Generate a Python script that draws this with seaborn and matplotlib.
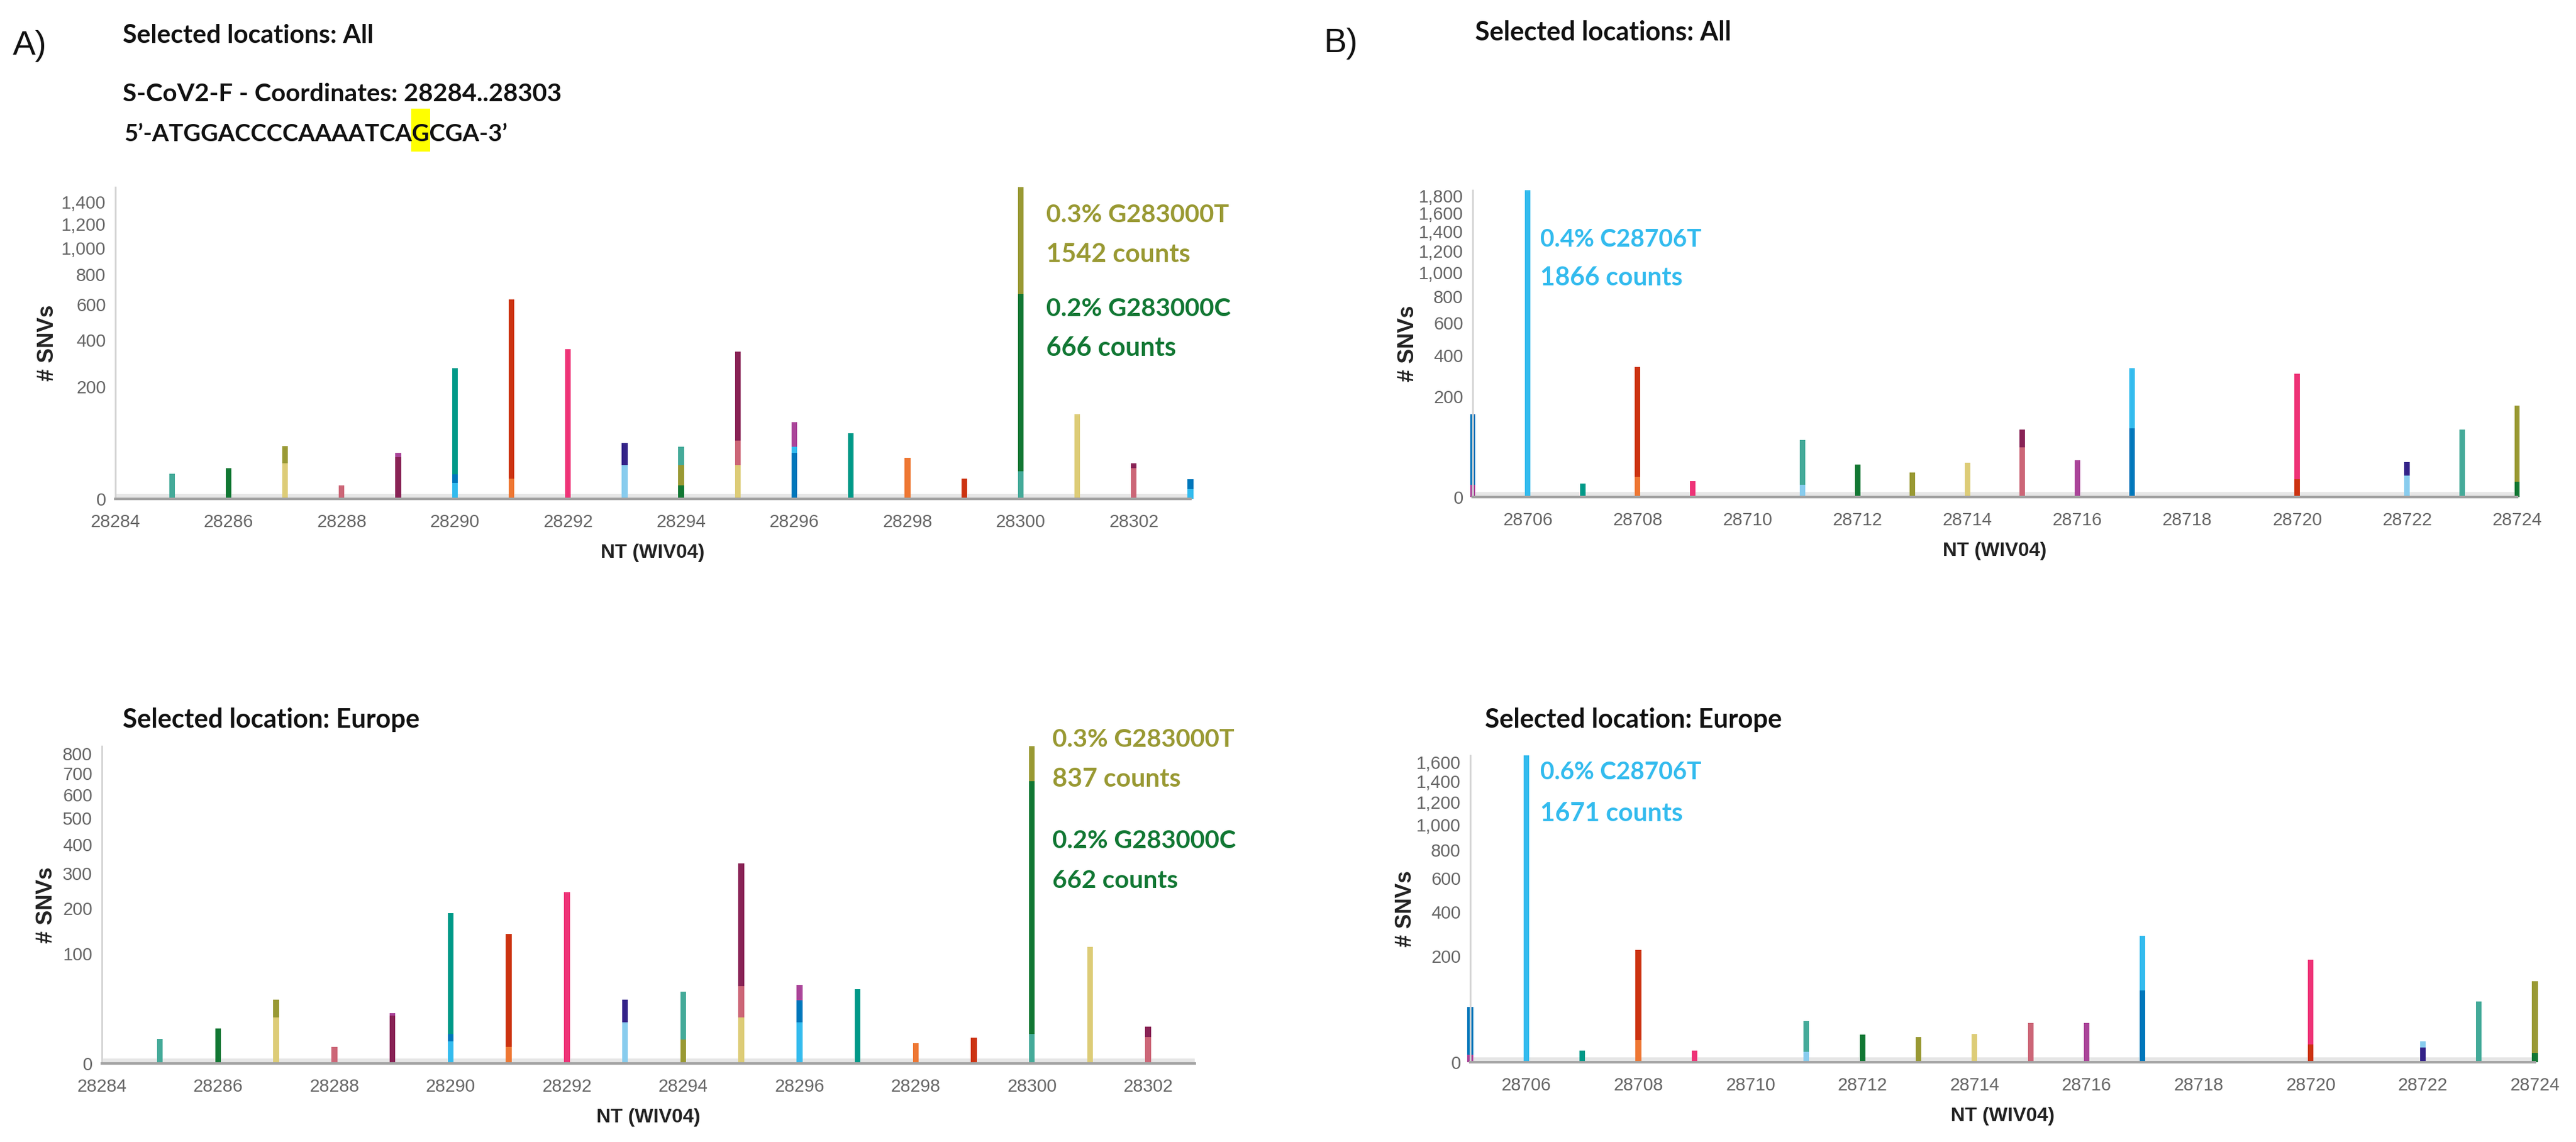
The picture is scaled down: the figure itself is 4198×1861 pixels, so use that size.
import numpy as np
import pandas as pd
import matplotlib
matplotlib.use("Agg")
import matplotlib.pyplot as plt
import seaborn as sns
from matplotlib import font_manager
from matplotlib.patches import Rectangle
from matplotlib.ticker import FixedLocator, FuncFormatter
from matplotlib.transforms import offset_copy

# Tamanho final da figura em pixels
W, H = 4198, 1861

# Cores das variantes (estilo Paul Tol)
palette = {
    "teal": "#44AA99", "teal_dk": "#009988", "green": "#117733", "sand": "#DDCC77",
    "olive": "#999933", "rose": "#CC6677", "wine": "#882255", "purple": "#AA4499",
    "cyan_lt": "#88CCEE", "indigo": "#332288", "blue": "#0077BB", "sky": "#33BBEE",
    "orange": "#EE7733", "red": "#CC3311", "magenta": "#EE3377",
}

# 1. Dados - painel A, todas as localizações
a_all_pos = [28285, 28286, 28287, 28287, 28288, 28289, 28289, 28290, 28290, 28290,
             28291, 28291, 28292, 28293, 28293, 28294, 28294, 28294, 28295, 28295, 28295,
             28296, 28296, 28296, 28297, 28298, 28299, 28300, 28300, 28300, 28301,
             28302, 28302, 28303, 28303]
a_all_var = ["teal", "green", "olive", "sand", "rose", "purple", "wine", "teal_dk", "blue", "sky",
             "red", "orange", "magenta", "indigo", "cyan_lt", "teal", "olive", "green", "wine", "rose", "sand",
             "purple", "sky", "blue", "teal_dk", "orange", "red", "olive", "green", "teal", "sand",
             "wine", "rose", "blue", "sky"]
a_all_cnt = [10, 15, 44, 20, 3, 34, 28, 270, 9.5, 4,
             633, 6.5, 357, 49, 18, 43, 18, 3, 343, 54, 18,
             94, 43, 34, 69, 27, 6.5, 1542, 666, 12, 113,
             20, 15, 6, 1.5]

# painel A, Europa
a_eur_pos = [28285, 28286, 28287, 28287, 28288, 28289, 28289, 28290, 28290, 28290,
             28291, 28291, 28292, 28293, 28293, 28294, 28294, 28295, 28295, 28295,
             28296, 28296, 28296, 28297, 28298, 28299, 28300, 28300, 28300, 28301,
             28302, 28302]
a_eur_var = ["teal", "green", "olive", "sand", "rose", "purple", "wine", "teal_dk", "blue", "sky",
             "red", "orange", "magenta", "indigo", "cyan_lt", "teal", "olive", "wine", "rose", "sand",
             "purple", "blue", "sky", "teal_dk", "orange", "red", "olive", "green", "teal", "sand",
             "wine", "rose"]
a_eur_cnt = [5, 10, 34, 17.5, 2.2, 21, 19, 188, 7.3, 4,
             140, 2.2, 243, 34, 14, 43, 4.7, 333, 50, 17.5,
             51, 33, 14, 46, 3.4, 5.5, 837, 662, 7.3, 113,
             11.4, 5.9]

# painel B, todas as localizações
b_all_pos = [28705, 28705, 28706, 28707, 28708, 28708, 28709, 28711, 28711, 28712,
             28713, 28714, 28715, 28715, 28716, 28717, 28717, 28720, 28720, 28722,
             28722, 28723, 28724, 28724]
b_all_var = ["blue", "purple", "sky", "teal_dk", "red", "orange", "magenta", "teal", "cyan_lt", "green",
             "olive", "sand", "wine", "rose", "purple", "sky", "blue", "magenta", "red", "indigo",
             "cyan_lt", "teal", "olive", "green"]
b_all_cnt = [136, 3, 1866, 3.6, 337, 8.3, 5, 65, 3, 21,
             12, 23, 90, 49, 27, 330, 94, 302, 6.3, 24.5,
             9.3, 90, 166, 4.6]

# painel B, Europa
b_eur_pos = [28705, 28705, 28706, 28707, 28708, 28708, 28709, 28711, 28711, 28712,
             28713, 28714, 28715, 28716, 28717, 28717, 28720, 28720, 28722, 28722,
             28723, 28724, 28724]
b_eur_var = ["blue", "purple", "sky", "teal_dk", "red", "orange", "magenta", "teal", "cyan_lt", "green",
             "olive", "sand", "rose", "purple", "sky", "blue", "magenta", "red", "cyan_lt", "indigo",
             "teal", "olive", "green"]
b_eur_cnt = [54, 1, 1671, 2.3, 225, 8.9, 2.3, 30, 1.9, 13.3,
             11.4, 14, 27, 27, 285, 91, 186, 5.7, 7.7, 3.8,
             66, 116, 1.5]

# ticks
a_xticks = list(range(28284, 28303, 2))
b_xticks = list(range(28706, 28725, 2))
a_all_yticks = [0, 200, 400, 600, 800, 1000, 1200, 1400]
a_eur_yticks = [0, 100, 200, 300, 400, 500, 600, 700, 800]
b_all_yticks = [0, 200, 400, 600, 800, 1000, 1200, 1400, 1600, 1800]
b_eur_yticks = [0, 200, 400, 600, 800, 1000, 1200, 1400, 1600]

# 2. Fontes
sns.set_style("white")
disponiveis = {f.name for f in font_manager.fontManager.ttflist}
NARROW = "Liberation Sans Narrow" if "Liberation Sans Narrow" in disponiveis else "Liberation Sans"
TITULO = "Lato" if "Lato" in disponiveis else NARROW
plt.rcParams["font.family"] = [NARROW, "DejaVu Sans"]
TICK_SIZE = 23.5 if NARROW.endswith("Narrow") else 21
XLAB_SIZE = 24.5 if NARROW.endswith("Narrow") else 23
ESCALA = 1.06  # texto da referência é mais alto que largo

fig = plt.figure(figsize=(W / 100, H / 100), dpi=100)
fig.patch.set_facecolor("white")
renderer = fig.canvas.get_renderer()


def fx(x):
    return x / W


def fy(y):
    return 1 - y / H


def sqrt_fwd(v):
    return np.sqrt(np.clip(v, 0, None))


def sqrt_inv(v):
    return np.square(v)


def desenhar_painel(box, pos, var, cnt, xlim, xticks, yticks, ymax, ylabel_x):
    left, top, right, bottom = box
    ax = fig.add_axes([fx(left), fy(bottom), (right - left) / W, (bottom - top) / H])
    df = pd.DataFrame({"nt": pos, "variante": var, "snvs": cnt})
    df["seg"] = df["nt"].astype(str) + "_" + df["variante"]
    # barras sobrepostas: maiores primeiro, menores por cima
    ordem = df.sort_values("snvs", ascending=False)["seg"].tolist()
    cores = {s: palette[v] for s, v in zip(df["seg"], df["variante"])}
    sns.barplot(data=df, x="nt", y="snvs", hue="seg", hue_order=ordem, palette=cores,
                native_scale=True, dodge=False, width=0.1, saturation=1,
                errorbar=None, legend=False, linewidth=0, ax=ax)
    for p in ax.patches:
        p.set_clip_on(False)

    ax.set_yscale("function", functions=(sqrt_fwd, sqrt_inv))
    ax.set_xlim(*xlim)
    ax.set_ylim(0, ymax)
    ax.xaxis.set_major_locator(FixedLocator(xticks))
    ax.xaxis.set_major_formatter(FuncFormatter(lambda v, _: f"{int(round(v))}"))
    ax.yaxis.set_major_locator(FixedLocator(yticks))
    ax.yaxis.set_major_formatter(FuncFormatter(lambda v, _: f"{int(round(v)):,}"))
    ax.yaxis.set_minor_locator(FixedLocator([]))

    for s in ["top", "right"]:
        ax.spines[s].set_visible(False)
    ax.spines["left"].set_color("#d4d4d4")
    ax.spines["left"].set_linewidth(2)
    ax.spines["bottom"].set_color("#a3a3a3")
    ax.spines["bottom"].set_linewidth(3)
    ax.spines["bottom"].set_zorder(3)
    # faixa clara logo acima da linha de base
    ax.plot([0, 1], [0, 0], transform=offset_copy(ax.transAxes, fig=fig, y=5, units="dots"),
            color="#e6e6e6", lw=4.3, solid_capstyle="butt", zorder=0.8, clip_on=False)

    ax.tick_params(axis="x", length=10, width=1.5, color="#bdbdbd", pad=7,
                   labelsize=TICK_SIZE, labelcolor="#666666")
    ax.tick_params(axis="y", length=7, width=1.5, color="#c8c8c8", pad=4,
                   labelsize=TICK_SIZE, labelcolor="#666666")

    ax.set_xlabel("NT (WIV04)", fontsize=XLAB_SIZE, fontweight="bold", color="#222222")
    ax.xaxis.set_label_coords(0.5, -88 / (bottom - top))
    ax.xaxis.label.set_va("center")
    ax.set_ylabel("# SNVs", family=["Liberation Sans", "DejaVu Sans"], fontsize=26,
                  fontweight="bold", color="#222222")
    ax.yaxis.set_label_coords((ylabel_x - left) / (right - left), 0.5)
    ax.yaxis.label.set_va("center")
    return ax


# 3. Painéis
desenhar_painel((188, 305, 1940, 813), a_all_pos, a_all_var, a_all_cnt,
                (28284, 28303), a_xticks, a_all_yticks, 1542, 77)
desenhar_painel((166, 1216, 1947, 1733), a_eur_pos, a_eur_var, a_eur_cnt,
                (28284, 28302.8), a_xticks, a_eur_yticks, 837, 76)
desenhar_painel((2400, 310, 4102, 810), b_all_pos, b_all_var, b_all_cnt,
                (28705, 28724), b_xticks, b_all_yticks, 1866, 2295)
desenhar_painel((2396, 1231, 4131, 1731), b_eur_pos, b_eur_var, b_eur_cnt,
                (28705, 28724), b_xticks, b_eur_yticks, 1671, 2290)


# 4. Textos (tamanho ajustado pela largura medida na referência)
def texto(x, y, s, largura_alvo, **kw):
    t = fig.text(fx(x), fy(y), s, **kw)
    w = t.get_window_extent(renderer).width
    t.set_fontsize(t.get_fontsize() * largura_alvo * ESCALA / w)
    return t


bold = dict(family=[TITULO, "DejaVu Sans"], fontsize=30, fontweight="bold",
            color="#111111", va="baseline", ha="left")
fig.text(fx(21), fy(75), "A)", fontsize=40, color="#111111", va="center", ha="left")
fig.text(fx(2157), fy(71), "B)", fontsize=40, color="#111111", va="center", ha="left")
texto(200, 70, "Selected locations: All", 386, **bold)
texto(2404, 66, "Selected locations: All", 394, **bold)
texto(200, 1186, "Selected location: Europe", 456, **bold)
texto(2420, 1186, "Selected location: Europe", 456, **bold)
texto(200, 165, "S-CoV2-F - Coordinates: 28284..28303", 673, **bold)

# sequência com o G destacado em amarelo
seq_prefixo = "5\u2019-ATGGACCCCAAAATCA"
seq_alvo = "G"
seq_sufixo = "CGA-3\u2019"
t_seq = texto(202, 230, seq_prefixo + seq_alvo + seq_sufixo, 588, zorder=3, **bold)
seq_kw = dict(bold, fontsize=t_seq.get_fontsize())


def largura(s):
    t = fig.text(0, 0.5, s, **seq_kw)
    w = t.get_window_extent(renderer).width
    t.remove()
    return w


x0 = t_seq.get_window_extent(renderer).x0
w1 = largura(seq_prefixo)
w2 = largura(seq_prefixo + seq_alvo)
fig.patches.append(Rectangle((fx(x0 + w1 - 1), fy(247)), (w2 - w1 + 2) / W, 70 / H,
                             transform=fig.transFigure, facecolor="#FFFF00",
                             edgecolor="none", zorder=1))

# anotações dos picos
ann = dict(family=[TITULO, "DejaVu Sans"], fontsize=30, fontweight="bold",
           va="baseline", ha="left")
c_t, c_c, c_sky = palette["olive"], palette["green"], palette["sky"]
texto(1705, 362, "0.3% G283000T", 281, color=c_t, **ann)
texto(1705, 427, "1542 counts", 221, color=c_t, **ann)
texto(1705, 515, "0.2% G283000C", 284, color=c_c, **ann)
texto(1705, 580, "666 counts", 200, color=c_c, **ann)

texto(1715, 1217, "0.3% G283000T", 280, color=c_t, **ann)
texto(1715, 1282, "837 counts", 197, color=c_t, **ann)
texto(1715, 1382, "0.2% G283000C", 282, color=c_c, **ann)
texto(1715, 1447, "662 counts", 193, color=c_c, **ann)

texto(2510, 402, "0.4% C28706T", 248, color=c_sky, **ann)
texto(2510, 465, "1866 counts", 219, color=c_sky, **ann)
texto(2510, 1270, "0.6% C28706T", 248, color=c_sky, **ann)
texto(2510, 1338, "1671 counts", 219, color=c_sky, **ann)

fig.savefig("out.png", dpi=100, facecolor="white")
